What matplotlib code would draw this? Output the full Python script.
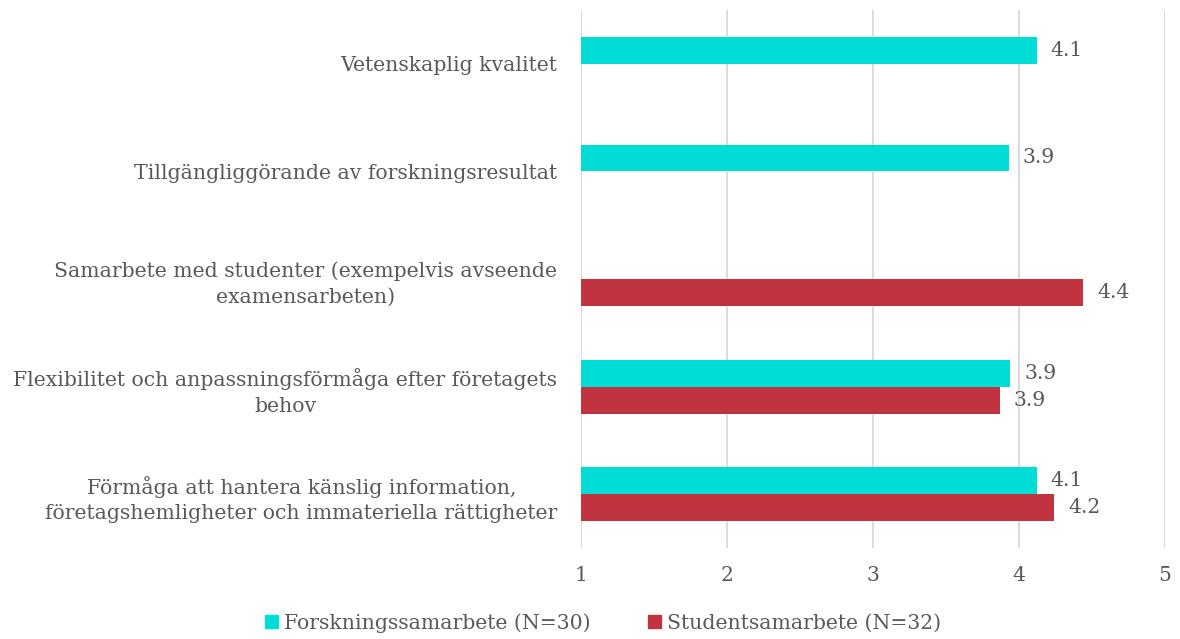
import numpy as np
import matplotlib
matplotlib.use("Agg")
import matplotlib.pyplot as plt
from matplotlib.patches import Patch

categories = [
    "Vetenskaplig kvalitet",
    "Tillgängliggörande av forskningsresultat",
    "Samarbete med studenter (exempelvis avseende\nexamensarbeten)",
    "Flexibilitet och anpassningsförmåga efter företagets\nbehov",
    "Förmåga att hantera känslig information,\nföretagshemligheter och immateriella rättigheter",
]
forskning = [4.12, 3.93, np.nan, 3.94, 4.12]
student = [np.nan, np.nan, 4.44, 3.87, 4.24]
series_names = ["Forskningssamarbete (N=30)", "Studentsamarbete (N=32)"]

CYAN = "#00dcd6"
RED = "#c1343f"
GREY = "#595959"
FS = 14.7

plt.rcParams["font.family"] = ["DejaVu Serif"]

fig = plt.figure(figsize=(11.8, 6.39), dpi=100)
ax = fig.add_axes([581 / 1180, 1 - 548 / 639, (1165 - 581) / 1180, (548 - 10) / 639])

y = np.arange(len(categories))
h = 0.25
ax.barh(y - h / 2, np.array(forskning) - 1, left=1, height=h, color=CYAN, zorder=3)
ax.barh(y + h / 2, np.array(student) - 1, left=1, height=h, color=RED, zorder=3)

for vals, off in ((forskning, -h / 2), (student, h / 2)):
    for yi, v in zip(y, vals):
        if np.isnan(v):
            continue
        ax.annotate(f"{v:.1f}", (v, yi + off), xytext=(10, 0), textcoords="offset points",
                    va="center", ha="left", fontsize=FS, color=GREY)

ax.set_xlim(1, 5)
ax.set_ylim(len(categories) - 0.5, -0.5)
ax.set_xticks([1, 2, 3, 4, 5])
ax.set_yticks(y)
ax.set_yticklabels(categories)
for t in ax.get_yticklabels():
    t.set_multialignment("center")
    t.set_linespacing(1.45)
ax.tick_params(axis="both", length=0, labelsize=FS, colors=GREY)
ax.tick_params(axis="x", pad=13)
ax.tick_params(axis="y", pad=17)
ax.grid(axis="x", color="#d9d9d9", linewidth=1.3, zorder=0)
for s in ax.spines.values():
    s.set_visible(False)

handles = [Patch(color=CYAN), Patch(color=RED)]
leg = fig.legend(handles, series_names, loc="center", bbox_to_anchor=(0.511, 0.025), ncol=2,
                 frameon=False, fontsize=FS, handlelength=0.65, handleheight=0.65,
                 handletextpad=0.3, columnspacing=2.8)
for t in leg.get_texts():
    t.set_color(GREY)

fig.savefig("out.png", dpi=100)
